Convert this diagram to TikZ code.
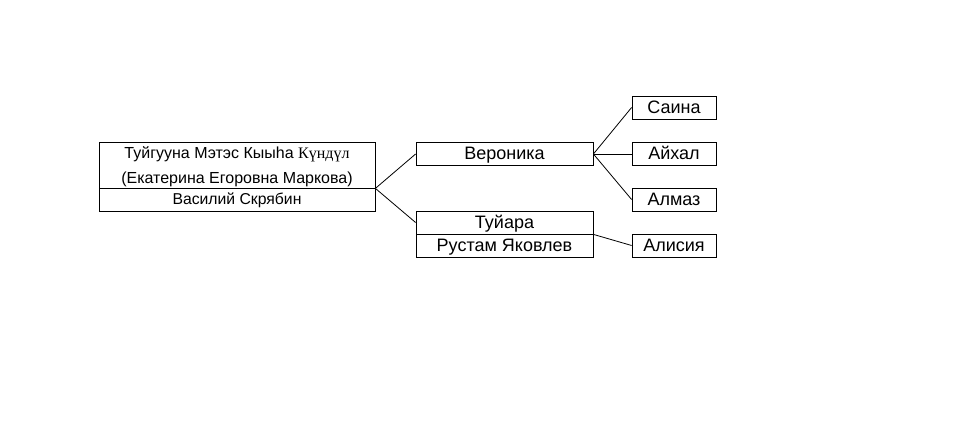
\documentclass[tikz,border=0pt]{standalone}
\usepackage{fontspec}
\setmainfont{Liberation Sans}
\newfontfamily\serifcyr{Liberation Serif}
\usetikzlibrary{positioning}
\tikzset{
  fam/box/.style={
    draw=black,
    line width=0.6pt,
    fill=white,
    align=center,
    inner sep=0pt,
    font=\fontsize{13.5}{16}\selectfont
  },
  fam/kid/.style={
    fam/box,
    text height=9.7pt,
    text depth=1pt,
    minimum width=63pt,
    minimum height=17.25pt
  },
  fam/mid/.style={
    fam/kid,
    minimum width=132.75pt
  },
  fam/link/.style={draw=black, line width=0.6pt}
}

\begin{document}
\begin{tikzpicture}[x=0.75pt,y=-0.75pt]
  \useasboundingbox (0,0) rectangle (973,442);
  % first couple
  \node[fam/box,minimum width=207pt,minimum height=34.5pt,text depth=0pt,font=\fontsize{12}{18.75}\selectfont] (mother) at (237,165)
    {Туйгууна Мэтэс Кыыһа {\serifcyr Күндүл}\\(Екатерина Егоровна Маркова)};
  \node[fam/box,minimum width=207pt,minimum height=17.25pt,text height=8.6pt,text depth=0.5pt,font=\fontsize{11.8}{14}\selectfont] (father) at (237,199.5) {Василий Скрябин};
  % children
  \node[fam/mid] (veronika) at (504.5,154) {Вероника};
  \node[fam/mid] (tuyara) at (504.5,222.5) {Туйара};
  \node[fam/mid] (rustam) at (504.5,245.5) {Рустам Яковлев};
  % grandchildren
  \node[fam/kid] (saina) at (674,107.5) {Саина};
  \node[fam/kid] (aykhal) at (674,154) {Айхал};
  \node[fam/kid] (almaz) at (674,199.5) {Алмаз};
  \node[fam/kid] (alisiya) at (674,245.5) {Алисия};
  \draw[fam/link] (mother.south east) -- (veronika.west);
  \draw[fam/link] (mother.south east) -- (tuyara.west);
  \foreach \k in {saina,aykhal,almaz}{
    \draw[fam/link] (veronika.east) -- (\k.west);
  }
  \draw[fam/link] (tuyara.south east) -- (alisiya.west);
\end{tikzpicture}
\end{document}
